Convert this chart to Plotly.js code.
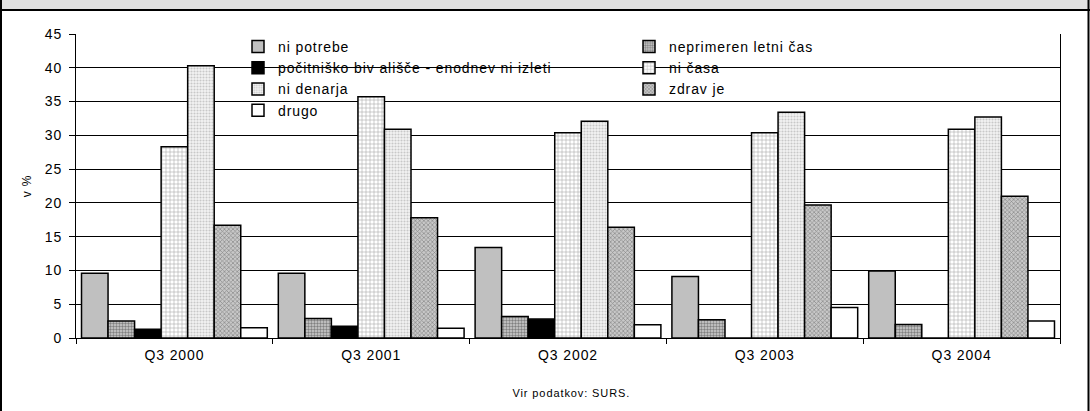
<!DOCTYPE html>
<html>
<head>
<meta charset="utf-8">
<script src="https://cdn.plot.ly/plotly-3.0.1.min.js"></script>
<style>
html,body{margin:0;padding:0;background:#fff;}
#chart{width:1090px;height:411px;}
#chart text{letter-spacing:0.9px;}
</style>
</head>
<body>
<div id="chart"></div>
<script>
const categories = ["Q3 2000", "Q3 2001", "Q3 2002", "Q3 2003", "Q3 2004"];
const legendLabels = ["ni potrebe", "neprimeren letni čas", "počitniško biv ališče - enodnev ni izleti", "ni časa", "ni denarja", "zdrav je", "drugo"];
const niPotrebe = [9.6, 9.6, 13.4, 9.1, 9.9];
const neprimeren = [2.5, 2.9, 3.2, 2.7, 2.0];
const pocitnisko = [1.3, 1.75, 2.8, 0, 0];
const niCasa = [28.3, 35.7, 30.4, 30.4, 30.9];
const niDenarja = [40.3, 30.9, 32.1, 33.4, 32.7];
const zdravje = [16.7, 17.8, 16.4, 19.7, 21.0];
const drugo = [1.5, 1.45, 1.95, 4.5, 2.5];
const yTicks = [0, 5, 10, 15, 20, 25, 30, 35, 40, 45];

const values = [niPotrebe, neprimeren, pocitnisko, niCasa, niDenarja, zdravje, drugo];
const styles = [
  {color: "#c0c0c0"},
  {color: "#b8b8b8", pattern: {shape: ".", size: 3, solidity: 0.5, fgcolor: "#808080", bgcolor: "#d0d0d0"}},
  {color: "#000000"},
  {color: "#ffffff", pattern: {shape: "+", size: 4, solidity: 0.25, fgcolor: "#a0a0a0", bgcolor: "#ffffff"}},
  {color: "#f0f0f0", pattern: {shape: ".", size: 3, solidity: 0.4, fgcolor: "#c8c8c8", bgcolor: "#f4f4f4"}},
  {color: "#b0b0b0", pattern: {shape: "x", size: 3, solidity: 0.4, fgcolor: "#888888", bgcolor: "#c8c8c8"}},
  {color: "#ffffff"}
];

const traces = values.map((v, i) => {
  const m = {color: styles[i].color, line: {color: "#000", width: 1.5}};
  if (styles[i].pattern) m.pattern = styles[i].pattern;
  return {type: "bar", name: legendLabels[i], x: categories, y: v, marker: m};
});

// helpers converting pixel positions of the frame into paper coordinates
const L = 76, R = 30, T = 34, B = 73, W = 1090, H = 411;
const pw = W - L - R, ph = H - T - B;
const px = x => (x - L) / pw;
const py = y => 1 - (y - T) / ph;

const layout = {
  width: W, height: H,
  margin: {l: L, r: R, t: T, b: B},
  paper_bgcolor: "#ffffff", plot_bgcolor: "#ffffff",
  font: {family: "Liberation Sans, Arial, sans-serif", color: "#000", size: 14},
  barmode: "group", bargap: 0.056, bargroupgap: 0,
  showlegend: true,
  legend: {
    orientation: "h", x: px(238), y: py(31), xanchor: "left", yanchor: "top",
    bgcolor: "rgba(0,0,0,0)", font: {size: 14}, traceorder: "normal",
    entrywidth: 346, entrywidthmode: "pixels", itemwidth: 30
  },
  xaxis: {
    type: "category", showline: true, linecolor: "#000", linewidth: 1,
    ticks: "outside", tickson: "boundaries", ticklen: 5, tickcolor: "#000",
    showgrid: false, mirror: false, tickfont: {size: 14}, ticklabelstandoff: 4, fixedrange: true
  },
  yaxis: {
    range: [0, 45], tickvals: yTicks, ticks: "outside", ticklen: 6, tickcolor: "#000",
    showline: true, linecolor: "#000", linewidth: 1, mirror: true,
    showgrid: true, gridcolor: "#000", gridwidth: 1, zeroline: false, ticklabelstandoff: 4,
    tickfont: {size: 14}, title: {text: "v %", font: {size: 12}, standoff: 12}, fixedrange: true
  },
  shapes: [
    {type: "rect", xref: "paper", yref: "paper", x0: px(0), x1: px(1090), y0: py(10), y1: py(0), fillcolor: "#e0e0e0", line: {width: 0}},
    {type: "line", xref: "paper", yref: "paper", x0: px(0), x1: px(1090), y0: py(10), y1: py(10), line: {color: "#000", width: 2}},
    {type: "line", xref: "paper", yref: "paper", x0: px(1), x1: px(1), y0: py(0), y1: py(411), line: {color: "#000", width: 2}},
    {type: "line", xref: "paper", yref: "paper", x0: px(1088.5), x1: px(1088.5), y0: py(0), y1: py(411), line: {color: "#000", width: 2}}
  ],
  annotations: [
    {text: "Vir podatkov: SURS.", xref: "paper", yref: "paper", x: px(571), y: py(393), showarrow: false, font: {size: 11}, xanchor: "center", yanchor: "middle"}
  ]
};

Plotly.newPlot("chart", traces, layout, {displayModeBar: false, staticPlot: true});
</script>
</body>
</html>
